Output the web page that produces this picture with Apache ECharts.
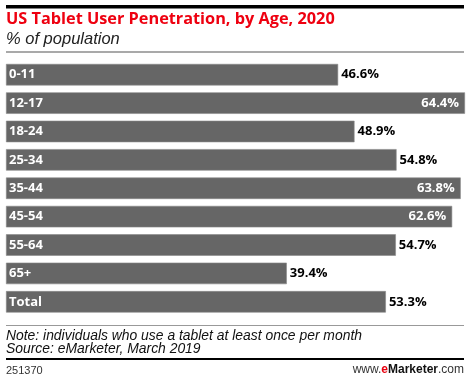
<!DOCTYPE html>
<html><head><meta charset="utf-8">
<script src="https://cdn.jsdelivr.net/npm/echarts@6/dist/echarts.min.js"></script>
<style>html,body{margin:0;padding:0;background:#fff}#c{width:470px;height:382px}</style>
</head><body><div id="c"></div>
<script>
const categories = ['0-11','12-17','18-24','25-34','35-44','45-54','55-64','65+','Total'];
const values = [46.6, 64.4, 48.9, 54.8, 63.8, 62.6, 54.7, 39.4, 53.3];
const insideThreshold = 60;

const chart = echarts.init(document.getElementById('c'), null, {renderer:'canvas'});
const font = 'Open Sans, Lato, sans-serif';
const barFont = 'Open Sans, sans-serif';
const noteFont = 'Liberation Sans, Arial, sans-serif';
chart.setOption({
  animation:false,
  grid:{left:6, right:5, top:60.5, height:255.5, containLabel:false},
  xAxis:{type:'value', min:0, max:64.4, show:false},
  yAxis:{type:'category', data:categories, inverse:true, show:false},
  series:[{
    type:'bar', barWidth:21.5,
    data: values.map(v=>({value:v, label: v>insideThreshold ? {position:'insideRight', color:'#fff', distance:6} : {position:'right', color:'#000', distance:3}})),
    itemStyle:{color:'#666666', borderColor:'#8a8a8a', borderWidth:0.6},
    label:{show:true, formatter: p=>p.value.toFixed(1)+'%', fontFamily:barFont, fontWeight:'bold', fontSize:13},
  },{
    type:'bar', barWidth:21.5, barGap:'-100%', silent:true,
    data: values.map(v=>v),
    itemStyle:{color:'rgba(0,0,0,0)'},
    label:{show:true, position:'insideLeft', formatter: p=>categories[p.dataIndex], color:'#fff', fontFamily:barFont, fontWeight:'bold', fontSize:13, distance:3}
  }],
  graphic:[
    {type:'rect', shape:{x:6, y:5, width:458, height:3.5}, style:{fill:'#000'}},
    {type:'text', left:6, top:11, style:{text:'US Tablet User Penetration, by Age, 2020', fill:'#ee0010', font:'bold 16.3px '+font}},
    {type:'text', left:6, top:30.5, style:{text:'% of population', fill:'#222', font:'italic 16.5px '+noteFont}},
    {type:'rect', shape:{x:6, y:51.5, width:458, height:1}, style:{fill:'#555'}},
    {type:'rect', shape:{x:6, y:325, width:458, height:1}, style:{fill:'#999'}},
    {type:'text', left:6, top:329, style:{text:'Note: individuals who use a tablet at least once per month', fill:'#111', font:'italic 13.9px '+noteFont}},
    {type:'text', left:6, top:342, style:{text:'Source: eMarketer, March 2019', fill:'#111', font:'italic 13.9px '+noteFont}},
    {type:'rect', shape:{x:6, y:358, width:458, height:2}, style:{fill:'#000'}},
    {type:'text', left:6, top:365, style:{text:'251370', fill:'#333', font:'11px '+noteFont}},
    {type:'text', right:6, top:364, style:{rich:{a:{fill:'#333', font:'12px '+noteFont}, b:{fill:'#e8000f', font:'bold 12px '+noteFont}, c:{fill:'#111', font:'bold 12px '+noteFont}}, text:'{a|www.}{b|e}{c|Marketer}{a|.com}'}}
  ]
});
</script></body></html>
